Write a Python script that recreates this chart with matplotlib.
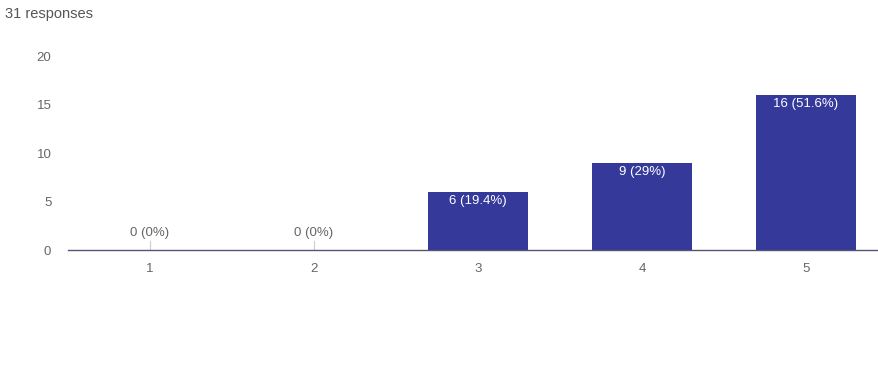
import matplotlib
matplotlib.use("Agg")
import matplotlib.pyplot as plt

categories = [1, 2, 3, 4, 5]
counts = [0, 0, 6, 9, 16]
labels = ["0 (0%)", "0 (0%)", "6 (19.4%)", "9 (29%)", "16 (51.6%)"]
yticks = [0, 5, 10, 15, 20]
subtitle = "31 responses"

plt.rcParams['font.family'] = ['Liberation Sans', 'DejaVu Sans']

fig = plt.figure(figsize=(8.79, 3.70), dpi=100)
ax = fig.add_axes([0.0774, 0.3243, 0.9226, 0.5243])

bar_color = '#34399a'
ax.bar(categories, counts, width=0.61, color=bar_color, zorder=2)
ax.set_xlim(0.5, 5.445)
ax.set_ylim(0, 20)

for x, c, lab in zip(categories, counts, labels):
    if c > 0:
        ax.text(x, c - 0.3, lab, ha='center', va='top', color='white', fontsize=9.5, zorder=3)
    else:
        ax.plot([x, x], [0, 0.9], color='#cccccc', lw=0.8, zorder=1)
        ax.text(x, 1.1, lab, ha='center', va='bottom', color='#666666', fontsize=9.5)

for s in ['top', 'right', 'left']:
    ax.spines[s].set_visible(False)
ax.spines['bottom'].set_color('#555577')
ax.spines['bottom'].set_linewidth(1.0)
ax.set_yticks(yticks)
ax.set_xticks(categories)
ax.set_xticklabels([str(c) for c in categories])
ax.tick_params(axis='both', length=0, colors='#666666', labelsize=9.5)
ax.tick_params(axis='y', pad=18)
ax.tick_params(axis='y', pad=12)
ax.tick_params(axis='x', pad=9)

fig.text(0.006, 0.962, subtitle, ha='left', va='center', fontsize=10.5, color='#555555')

fig.savefig("out.png", dpi=100)
